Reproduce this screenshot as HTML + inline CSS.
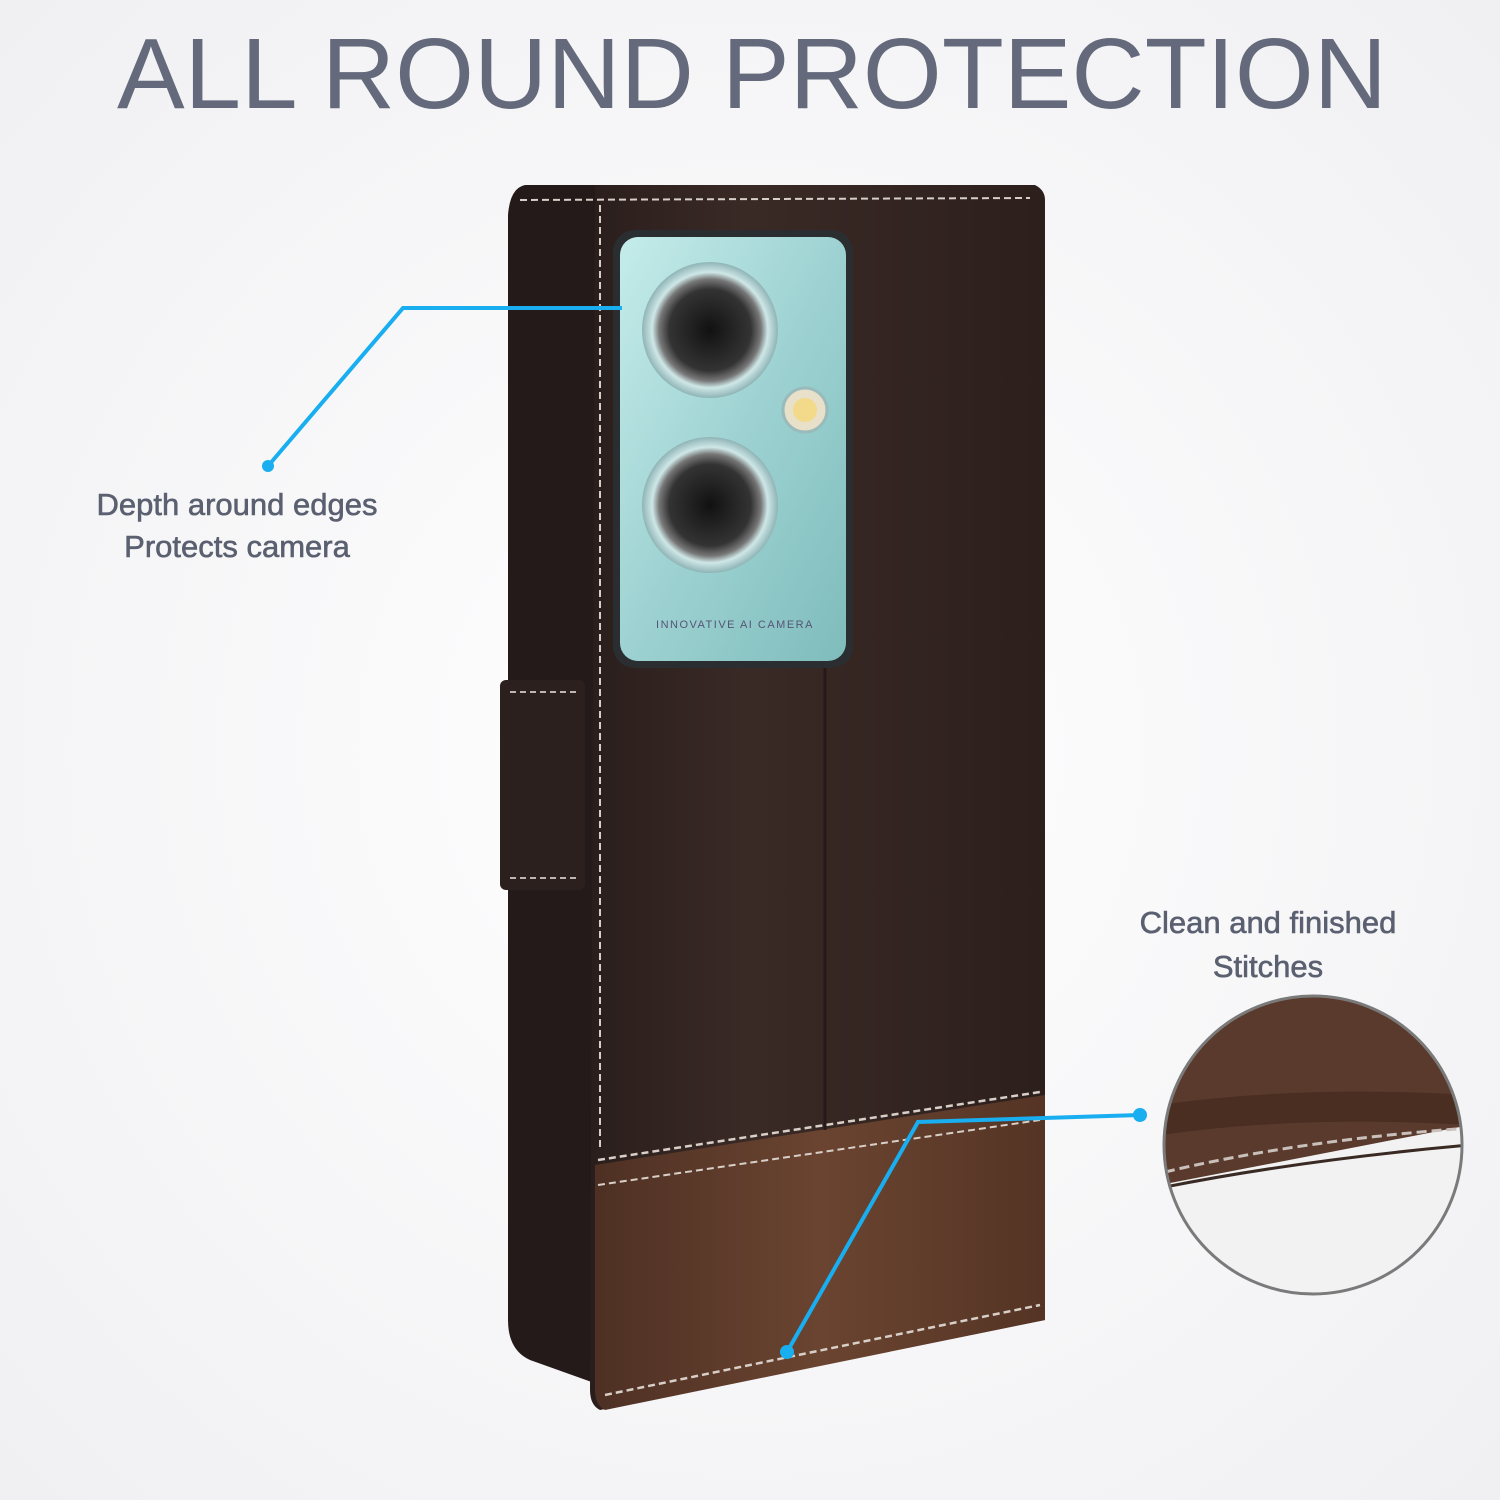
<!DOCTYPE html>
<html><head><meta charset="utf-8"><style>
html,body{margin:0;padding:0;width:1500px;height:1500px;overflow:hidden;background:#f7f7f9}
svg{display:block}
</style></head><body>
<svg width="1500" height="1500" viewBox="0 0 1500 1500">
<defs>
<radialGradient id="bg" cx="50%" cy="50%" r="75%"><stop offset="0" stop-color="#ffffff"/><stop offset="1" stop-color="#efeff2"/></radialGradient>
<linearGradient id="cam" x1="0" y1="0" x2="1" y2="1"><stop offset="0" stop-color="#c4ecea"/><stop offset="0.5" stop-color="#9ed2d2"/><stop offset="1" stop-color="#7fbcbc"/></linearGradient>
<linearGradient id="body" x1="0" y1="0" x2="1" y2="0"><stop offset="0" stop-color="#2a1e1c"/><stop offset="0.35" stop-color="#3a2a26"/><stop offset="1" stop-color="#2c1f1c"/></linearGradient>
<linearGradient id="band" x1="0" y1="0" x2="1" y2="0"><stop offset="0" stop-color="#4e3024"/><stop offset="0.5" stop-color="#6a4430"/><stop offset="1" stop-color="#553425"/></linearGradient>
<radialGradient id="lens" cx="50%" cy="50%" r="50%"><stop offset="0" stop-color="#111"/><stop offset="0.6" stop-color="#333"/><stop offset="0.75" stop-color="#777"/><stop offset="0.85" stop-color="#cfe7e7"/><stop offset="1" stop-color="#8fb4b6"/></radialGradient>
<clipPath id="cc"><circle cx="1313" cy="1145" r="148"/></clipPath>
</defs>
<rect width="1500" height="1500" fill="url(#bg)"/>
<text x="752" y="108" text-anchor="middle" font-family="Liberation Sans, sans-serif" font-size="100" fill="#646a7b" textLength="1270" lengthAdjust="spacingAndGlyphs">ALL ROUND PROTECTION</text>

<path d="M525 185 L600 185 L600 1385 L530 1360 Q508 1350 508 1320 L508 215 Q510 188 525 185Z" fill="#241a19"/>
<rect x="500" y="680" width="85" height="210" rx="6" fill="#2b201e"/>
<path d="M510 692 L578 692 M510 878 L578 878" stroke="#bfb5b0" stroke-width="2" stroke-dasharray="6 4"/>
<path d="M595 185 L1035 185 Q1045 190 1045 200 L1045 1320 L600 1410 Q590 1405 590 1390 Z" fill="url(#body)"/>
<path d="M595 1165 L1045 1095 L1045 1320 L605 1410 Q595 1405 595 1390 Z" fill="url(#band)"/>
<path d="M598 1160 L1040 1092" stroke="#d8d0c8" stroke-width="2.5" stroke-dasharray="7 4"/>
<path d="M598 1185 L1040 1120" stroke="#d8d0c8" stroke-width="2" stroke-dasharray="7 4"/>
<path d="M605 1395 L1040 1305" stroke="#d8d0c8" stroke-width="2.5" stroke-dasharray="7 4"/>
<path d="M600 205 L600 1150" stroke="#d8d0c8" stroke-width="2" stroke-dasharray="7 4"/>
<path d="M520 200 L1030 198" stroke="#d8d0c8" stroke-width="2" stroke-dasharray="7 4"/>
<path d="M825 660 L825 1130" stroke="#251a18" stroke-width="3"/>
<rect x="613" y="230" width="240" height="438" rx="22" fill="#2a2e30"/>
<rect x="620" y="237" width="226" height="424" rx="18" fill="url(#cam)"/>
<circle cx="710" cy="330" r="68" fill="url(#lens)"/>
<circle cx="710" cy="505" r="68" fill="url(#lens)"/>
<circle cx="805" cy="410" r="22" fill="#e8e0c8" stroke="#9bb" stroke-width="3"/>
<circle cx="805" cy="410" r="12" fill="#f3d98a"/>
<text x="735" y="628" text-anchor="middle" font-family="Liberation Sans, sans-serif" font-size="11" fill="#557" letter-spacing="1.5">INNOVATIVE AI CAMERA</text>
<polyline points="268,466 403,308 622,308" fill="none" stroke="#19aef0" stroke-width="4"/>
<circle cx="268" cy="466" r="6" fill="#19aef0"/>
<polyline points="1140,1115 918,1122 787,1352" fill="none" stroke="#19aef0" stroke-width="4"/>
<circle cx="1140" cy="1115" r="7" fill="#19aef0"/>
<circle cx="787" cy="1352" r="7" fill="#19aef0"/>
<g clip-path="url(#cc)">
<rect x="1160" y="995" width="310" height="310" fill="#f2f2f2"/>
<path d="M1160 995 L1470 995 L1470 1125 L1160 1185Z" fill="#5a3a2c"/>
<path d="M1160 1120 Q1300 1100 1470 1110" fill="none" stroke="#4a2e22" stroke-width="30"/>
<path d="M1165 1172 Q1300 1140 1470 1128" fill="none" stroke="#c9c0bc" stroke-width="3" stroke-dasharray="10 5"/>
<path d="M1160 1188 Q1300 1160 1470 1145" fill="none" stroke="#3a2a24" stroke-width="3"/>
</g>
<circle cx="1313" cy="1145" r="149" fill="none" stroke="#7a7a7a" stroke-width="3"/>
<g font-family="Liberation Sans, sans-serif" font-size="31" fill="#5a6070" text-anchor="middle" stroke="#5a6070" stroke-width="0.6">
<text x="237" y="515">Depth around edges</text>
<text x="237" y="557">Protects camera</text>
<text x="1268" y="933">Clean and finished</text>
<text x="1268" y="977">Stitches</text>
</g>
</svg>
</body></html>
